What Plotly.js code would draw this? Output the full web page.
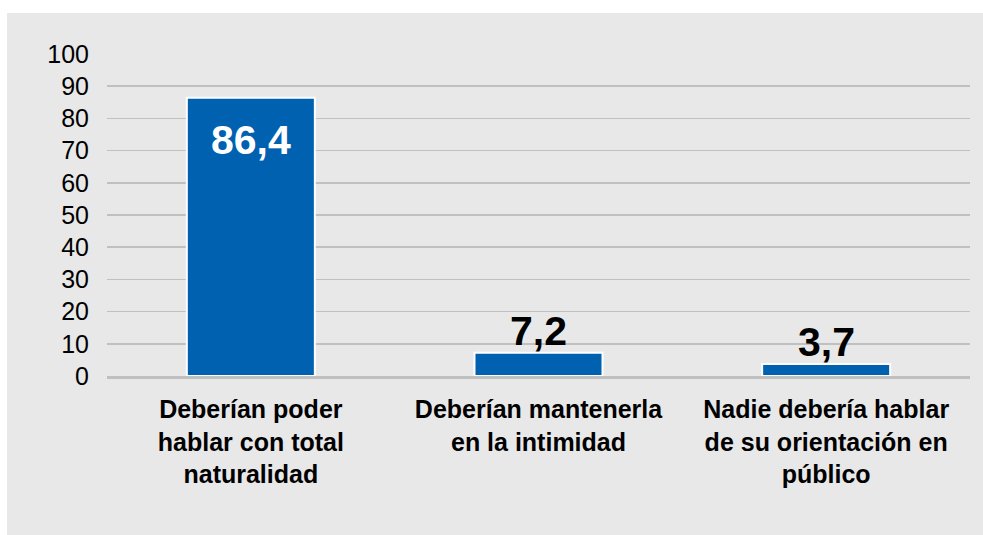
<!DOCTYPE html>
<html>
<head>
<meta charset="utf-8">
<script src="https://cdn.plot.ly/plotly-3.0.1.min.js"></script>
<style>
  html, body { margin: 0; padding: 0; background: #ffffff; width: 983px; height: 535px; overflow: hidden; }
  #chart { position: absolute; left: 7px; top: 13px; width: 976px; height: 522px; }
</style>
</head>
<body>
<div id="chart"></div>
<script>
const categories = [
  'Deberían poder<br>hablar con total<br>naturalidad',
  'Deberían mantenerla<br>en la intimidad',
  'Nadie debería hablar<br>de su orientación en<br>público'
];
const values = [86.4, 7.2, 3.7];
const yTicks = [0, 10, 20, 30, 40, 50, 60, 70, 80, 90, 100];

const fmt = v => v.toFixed(1).replace('.', ',');

const trace = {
  type: 'bar',
  x: categories,
  y: values,
  marker: { color: '#0061b0', line: { color: '#ffffff', width: 2 } },
  hoverinfo: 'none'
};

const annotations = values.map((v, i) => {
  const inside = v > 50;
  return {
    x: categories[i], y: v, xref: 'x', yref: 'y',
    text: fmt(v), showarrow: false,
    yanchor: inside ? 'top' : 'bottom',
    yshift: inside ? -17 : -3,
    font: { family: 'Liberation Sans, Arial, sans-serif', size: 41, color: inside ? '#ffffff' : '#000000', weight: 'bold' }
  };
});

const layout = {
  width: 976, height: 522,
  paper_bgcolor: '#e8e8e8',
  plot_bgcolor: '#e8e8e8',
  margin: { l: 100, r: 13, t: 41, b: 159 },
  bargap: 0.555,
  showlegend: false,
  font: { family: 'Liberation Sans, Arial, sans-serif', color: '#000000' },
  xaxis: {
    type: 'category',
    showline: true, linecolor: '#bfbfbf', linewidth: 3,
    showgrid: false, ticks: '',
    tickfont: { size: 25, weight: 'bold', color: '#000000' },
    ticklabelstandoff: 9
  },
  yaxis: {
    range: [0, 100],
    tickvals: yTicks,
    ticktext: yTicks.map(String),
    showgrid: true, gridcolor: '#c0c0c0', gridwidth: 1.5,
    zeroline: false, showline: false, ticks: '',
    tickfont: { size: 25, color: '#000000' },
    ticklabelstandoff: 17
  },
  annotations: annotations
};

Plotly.newPlot('chart', [trace], layout, { displayModeBar: false, staticPlot: true });
</script>
</body>
</html>
